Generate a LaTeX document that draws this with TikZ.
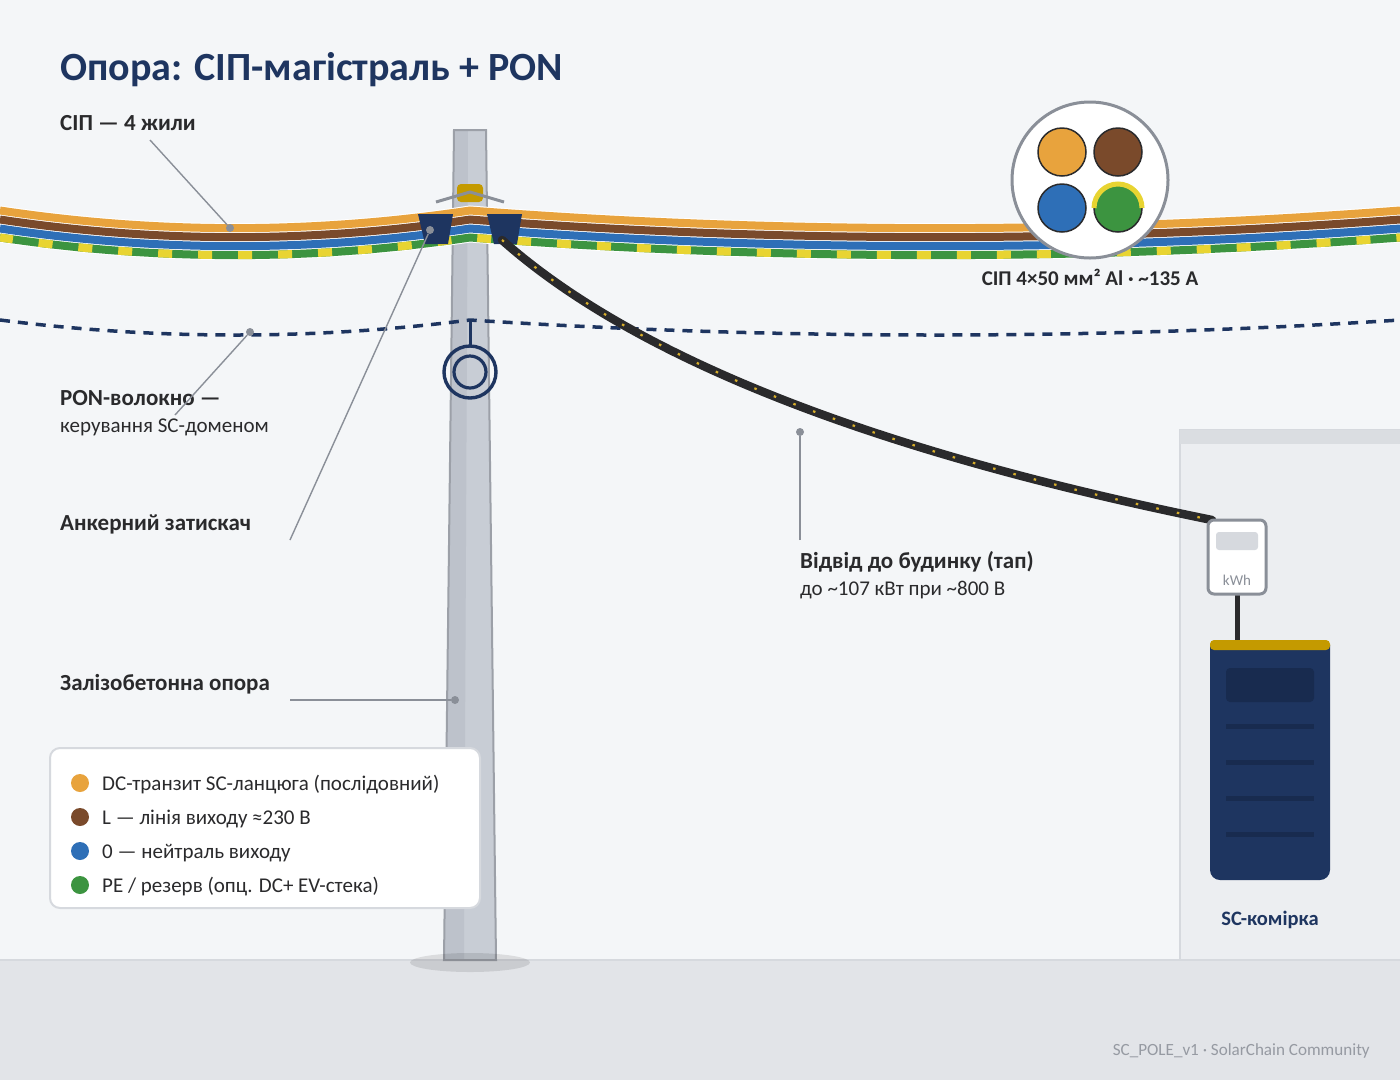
\documentclass[tikz,border=0pt]{standalone}
\usepackage{fontspec}
\setmainfont[Script=Cyrillic]{Carlito}
\usetikzlibrary{positioning}
\definecolor{pagebg}{HTML}{F4F6F8}
\definecolor{groundc}{HTML}{E2E4E8}
\definecolor{groundl}{HTML}{D6D9DE}
\definecolor{housec}{HTML}{ECEEF1}
\definecolor{navyc}{HTML}{1E3560}
\definecolor{navyd}{HTML}{182B4F}
\definecolor{orangec}{HTML}{E8A33D}
\definecolor{brownc}{HTML}{7A4A2B}
\definecolor{bluec}{HTML}{2E6FB7}
\definecolor{greenc}{HTML}{3C9440}
\definecolor{yellowc}{HTML}{E8D432}
\definecolor{goldc}{HTML}{C49A00}
\definecolor{greyc}{HTML}{8A8F98}
\definecolor{polel}{HTML}{C8CDD5}
\definecolor{poled}{HTML}{BDC2CB}
\definecolor{inkc}{HTML}{2A2A2C}
\definecolor{tapc}{HTML}{2A2A2C}
\definecolor{tapdotc}{HTML}{D8AE2A}
\newcommand{\fs}[1]{\fontsize{#1}{#1}\selectfont}
% one wire, sag to the left and to the right of the pole
\newcommand{\sagwire}[1]{(0,#1) .. controls (157,#1+23.5) and (313,#1+23.5) .. (470,#1) .. controls (780,#1+23.5) and (1090,#1+23.5) .. (1400,#1)}
\tikzset{
  wire/.style={line width=8pt},
  wirecase/.style={line width=10pt,white},
  leader/.style={draw=greyc,line width=1.4pt},
  leaderdot/.style={circle,fill=greyc,inner sep=0pt,minimum size=8pt},
  boldlabel/.style={anchor=base west,inner sep=0pt,font=\fs{23}\bfseries,text=inkc},
  subtext/.style={anchor=base west,inner sep=0pt,font=\fs{21},text=inkc},
  legendtext/.style={anchor=base west,inner sep=0pt,font=\fs{21},text=inkc},
  clamp/.style={fill=navyc},
  corewire/.style={draw=inkc,line width=1.5pt},
}
\begin{document}
\begin{tikzpicture}[x=1pt,y=-1pt,>=stealth]
\useasboundingbox (0,0) rectangle (1400,1080);
\fill[pagebg] (0,0) rectangle (1400,1080);
% Ground
\fill[groundc] (0,960) rectangle (1400,1080);
\draw[groundl,line width=2pt] (0,960) -- (1400,960);
% Building
\fill[housec,draw=groundl,line width=2pt] (1180,430) rectangle (1410,960);
\fill[groundl!90!white] (1180,430) rectangle (1400,444);
% Pole
\fill[polel] (454,130) -- (486,130) -- (496,960) -- (444,960) -- cycle;
\fill[poled] (454,130) -- (468,130) -- (464,960) -- (444,960) -- cycle;
\draw[greyc!85!white,line width=2pt] (454,130) -- (486,130) -- (496,960) -- (444,960) -- cycle;
\fill[black,opacity=0.1] (470,962.5) ellipse[x radius=60,y radius=9.5];
% Bracket on top of the pole
\fill[goldc,rounded corners=4pt] (457,184) rectangle (483,202);
\draw[greyc,line width=3pt] (436,202) -- (470,192) -- (504,202);
% The wires
\foreach \wirey in {210.5,219.5,228.5,237.5}
  \draw[wirecase] \sagwire{\wirey};
\draw[wire,orangec] \sagwire{210.5};
\draw[wire,brownc] \sagwire{219.5};
\draw[wire,bluec] \sagwire{228.5};
\draw[wire,greenc] \sagwire{237.5};
\draw[wire,yellowc,dash pattern=on 14pt off 26pt,dash phase=1pt] \sagwire{237.5};
% Clamps
\fill[clamp] (418,214) -- (453,214) -- (448,244) -- (425,244) -- cycle;
\fill[clamp] (487,214) -- (522,214) -- (517,244) -- (494,244) -- cycle;
% PON fibre
\draw[navyc,line width=3.5pt,dash pattern=on 10pt off 8pt] (0,320) .. controls (157,340) and (313,340) .. (470,320) .. controls (780,340) and (1090,340) .. (1400,320);
\draw[navyc,line width=3pt] (470,320) -- (470,346);
\draw[navyc,line width=3.4pt] (470,372) circle[radius=26];
\draw[navyc,line width=3.2pt] (470,372) circle[radius=16];
% Tap to the house
\coordinate (tapstart) at (502,240);
\coordinate (tapend) at (1212,520);
\draw[tapc,line width=8.5pt,line cap=round] (tapstart) .. controls (634,357.3) and (870.7,450.7) .. (tapend);
\draw[tapdotc,line width=2.2pt,dash pattern=on 2.5pt off 18.5pt] (tapstart) .. controls (634,357.3) and (870.7,450.7) .. (tapend);
% Cable cross-section
\fill[white,draw=greyc,line width=3pt] (1090,180) circle[radius=78];
\draw[corewire,fill=orangec] (1062,152) circle[radius=24];
\draw[corewire,fill=brownc] (1118,152) circle[radius=24];
\draw[corewire,fill=bluec] (1062,208) circle[radius=24];
\draw[corewire,fill=greenc] (1118,208) circle[radius=24];
\draw[yellowc,line width=5pt] (1094,208) arc[start angle=180,end angle=360,radius=24];
\node[anchor=base,inner sep=0pt,font=\fs{21}\bfseries,text=inkc] (coretext) at (1090,285) {СІП 4×50 мм² Al · \textasciitilde135 A};
% Meter and SC cell
\draw[tapc,line width=5pt] (1237,594) -- (1237,642);
\draw[fill=white,draw=greyc,line width=3pt,rounded corners=6pt] (1208,520) rectangle (1266,594);
\fill[groundl,rounded corners=3pt] (1216,532) rectangle (1258,550);
\node[anchor=base,inner sep=0pt,font=\fs{15},text=greyc] (kwh) at (1237,585) {kWh};
\fill[navyc] (1210,645) -- (1210,870) arc[start angle=180,end angle=90,radius=10] -- (1320,880) arc[start angle=90,end angle=0,radius=10] -- (1330,645) -- cycle;
\fill[goldc,rounded corners=4pt] (1210,640) rectangle (1330,650);
\fill[navyd,rounded corners=4pt] (1226,668) rectangle (1314,702);
\foreach \bary in {726,762,798,834}
  \fill[navyd] (1226,\bary-2.5) rectangle (1314,\bary+2.5);
\node[anchor=base,inner sep=0pt,font=\fs{20.5}\bfseries,text=navyc] (celltext) at (1270,925) {SC-комірка};
% Labels
\node[anchor=base west,inner sep=0pt,font=\fs{40}\bfseries,text=navyc] (title) at (60,80) {Опора: СІП-магістраль + PON};
\node[boldlabel] (siplabel) at (60,130) {СІП — 4 жили};
\node[boldlabel] (ponlabel) at (60,405) {PON-волокно —};
\node[subtext] (ponsub) at (60,432) {керування SC-доменом};
\node[boldlabel] (clamplabel) at (60,530) {Анкерний затискач};
\node[boldlabel] (polelabel) at (60,690) {Залізобетонна опора};
\node[boldlabel] (taplabel) at (800,568) {Відвід до будинку (тап)};
\node[subtext] (tapsub) at (800,595) {до \textasciitilde107 кВт при \textasciitilde800 В};
% Leader lines
\coordinate (sipfrom) at (150,140);
\coordinate (ponfrom) at (175,415);
\coordinate (clampfrom) at (290,540);
\coordinate (polefrom) at (290,700);
\coordinate (tapfrom) at (800,540);
\node[leaderdot] (sipdot) at (230,228) {};
\node[leaderdot] (pondot) at (250,332) {};
\node[leaderdot] (clampdot) at (430,230) {};
\node[leaderdot] (poledot) at (455,700) {};
\node[leaderdot] (tapdot) at (800,432) {};
\draw[leader] (sipfrom) -- (sipdot);
\draw[leader] (ponfrom) -- (pondot);
\draw[leader] (clampfrom) -- (clampdot);
\draw[leader] (polefrom) -- (poledot);
\draw[leader] (tapfrom) -- (tapdot);
% Legend
\draw[fill=white,draw=groundl,line width=2pt,rounded corners=10pt] (50,748) rectangle (480,908);
\fill[orangec] (80,783) circle[radius=9];
\fill[brownc] (80,817) circle[radius=9];
\fill[bluec] (80,851) circle[radius=9];
\fill[greenc] (80,885) circle[radius=9];
\node[legendtext] (legenda) at (102,790) {DC-транзит SC-ланцюга (послідовний)};
\node[legendtext] (legendb) at (102,824) {L — лінія виходу ≈230 В};
\node[legendtext] (legendc) at (102,858) {0 — нейтраль виходу};
\node[legendtext] (legendd) at (102,892) {PE / резерв (опц. DC+ EV-стека)};
% Footer
\node[anchor=base east,inner sep=0pt,font=\fs{17.1},text=greyc!90!white] (footer) at (1370,1055) {SC\_POLE\_v1 · SolarChain Community};
\end{tikzpicture}
\end{document}
